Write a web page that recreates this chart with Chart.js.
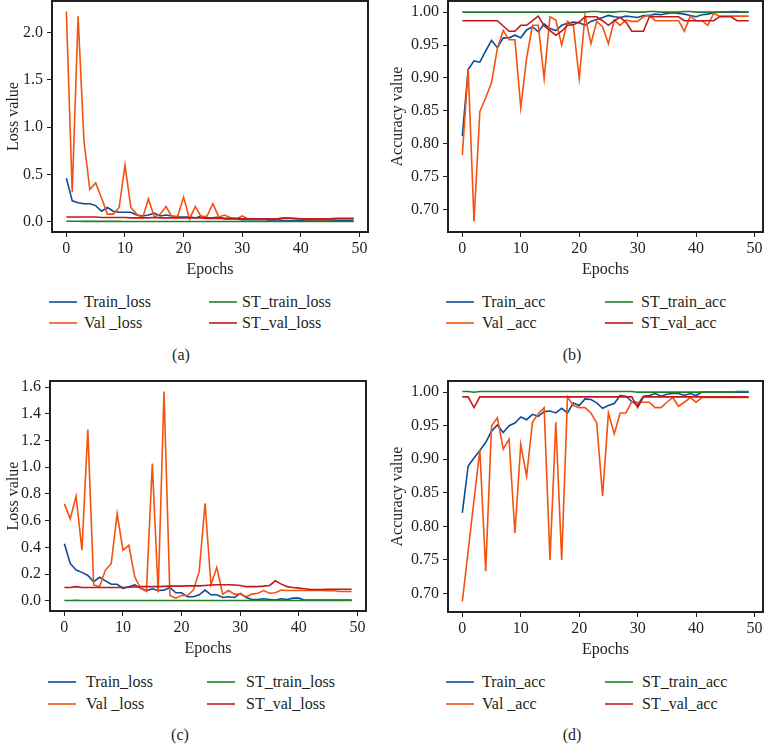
<!DOCTYPE html>
<html>
<head>
<meta charset="utf-8">
<script src="https://cdn.jsdelivr.net/npm/chart.js@4.4.0/dist/chart.umd.min.js"></script>
<style>
  body { margin: 0; background: #fff; width: 765px; height: 744px; position: relative; overflow: hidden;
         font-family: "Liberation Serif", "DejaVu Serif", serif; color: #231f20; }
  canvas { position: absolute; }
  .leg-line { position: absolute; height: 2px; }
  .leg-text, .caption { position: absolute; font-size: 16px; line-height: 20px; white-space: nowrap; }
</style>
</head>
<body>
<script>
// epochs and axis ticks
var epochs = [0, 1, 2, 3, 4, 5, 6, 7, 8, 9, 10, 11, 12, 13, 14, 15, 16, 17, 18, 19, 20, 21, 22, 23, 24,
  25, 26, 27, 28, 29, 30, 31, 32, 33, 34, 35, 36, 37, 38, 39, 40, 41, 42, 43, 44, 45, 46, 47, 48, 49];
var xTicks = [0, 10, 20, 30, 40, 50];
var lossTicksA = [0.0, 0.5, 1.0, 1.5, 2.0];
var lossTicksC = [0.0, 0.2, 0.4, 0.6, 0.8, 1.0, 1.2, 1.4, 1.6];
var accTicks = [0.70, 0.75, 0.80, 0.85, 0.90, 0.95, 1.00];

var lossNames = ['Train_loss', 'Val _loss', 'ST_train_loss', 'ST_val_loss'];
var accNames = ['Train_acc', 'Val _acc', 'ST_train_acc', 'ST_val_acc'];

// (a) loss
var trainLossA = [0.46, 0.22, 0.20, 0.19, 0.19, 0.17, 0.11, 0.15, 0.11, 0.10, 0.10, 0.10, 0.07, 0.06, 0.07, 0.09, 0.06, 0.07, 0.06, 0.05,
  0.05, 0.05, 0.04, 0.06, 0.04, 0.04, 0.05, 0.03, 0.03, 0.03, 0.02, 0.02, 0.02, 0.02, 0.02, 0.01, 0.02, 0.01, 0.01, 0.01,
  0.01, 0.01, 0.01, 0.01, 0.01, 0.01, 0.01, 0.01, 0.01, 0.01];
var valLossA = [2.22, 0.31, 2.17, 0.85, 0.34, 0.41, 0.25, 0.08, 0.08, 0.15, 0.60, 0.15, 0.08, 0.04, 0.24, 0.05, 0.08, 0.16, 0.05, 0.06,
  0.26, 0.03, 0.16, 0.05, 0.06, 0.19, 0.05, 0.07, 0.04, 0.03, 0.06, 0.03, 0.03, 0.03, 0.03, 0.02, 0.03, 0.04, 0.04, 0.03,
  0.03, 0.02, 0.02, 0.02, 0.02, 0.02, 0.03, 0.03, 0.03, 0.03];
var stTrainLossA = [0.004, 0.004, 0.004, 0.003, 0.003, 0.003, 0.003, 0.003, 0.003, 0.003, 0.002, 0.002, 0.002, 0.002, 0.002, 0.002, 0.002, 0.002, 0.002, 0.002,
  0.002, 0.002, 0.002, 0.002, 0.002, 0.002, 0.002, 0.002, 0.002, 0.002, 0.002, 0.002, 0.002, 0.002, 0.002, 0.002, 0.002, 0.002, 0.002, 0.002,
  0.002, 0.002, 0.002, 0.002, 0.002, 0.002, 0.002, 0.002, 0.002, 0.002];
var stValLossA = [0.05, 0.05, 0.05, 0.05, 0.05, 0.05, 0.045, 0.045, 0.045, 0.045, 0.045, 0.04, 0.04, 0.04, 0.04, 0.045, 0.04, 0.04, 0.04, 0.04,
  0.04, 0.04, 0.04, 0.04, 0.035, 0.035, 0.035, 0.035, 0.035, 0.035, 0.03, 0.03, 0.03, 0.03, 0.03, 0.03, 0.03, 0.035, 0.035, 0.035,
  0.03, 0.03, 0.03, 0.03, 0.03, 0.03, 0.035, 0.035, 0.035, 0.035];

// (b) accuracy
var trainAccB = [0.812, 0.913, 0.926, 0.924, 0.941, 0.957, 0.946, 0.961, 0.961, 0.965, 0.961, 0.973, 0.978, 0.970, 0.982, 0.975, 0.972, 0.980, 0.983, 0.985,
  0.984, 0.980, 0.986, 0.989, 0.992, 0.995, 0.993, 0.992, 0.994, 0.993, 0.992, 0.995, 0.995, 0.997, 0.996, 0.998, 0.999, 0.998, 0.997, 0.995,
  0.993, 0.996, 0.997, 0.999, 1.000, 1.000, 1.000, 1.000, 1.000, 1.000];
var valAccB = [0.783, 0.914, 0.682, 0.849, 0.870, 0.893, 0.945, 0.972, 0.958, 0.958, 0.855, 0.930, 0.980, 0.980, 0.899, 0.993, 0.988, 0.950, 0.986, 0.980,
  0.899, 0.995, 0.952, 0.986, 0.978, 0.952, 0.988, 0.980, 0.988, 0.986, 0.986, 0.993, 0.995, 0.987, 0.987, 0.987, 0.987, 0.987, 0.971, 0.994,
  0.987, 0.987, 0.980, 0.998, 0.994, 0.994, 0.994, 0.994, 0.994, 0.994];
var stTrainAccB = [1.000, 1.000, 1.000, 1.000, 1.000, 1.000, 1.000, 1.000, 1.000, 1.000, 1.000, 1.000, 1.000, 1.000, 1.000, 1.000, 1.000, 1.000, 1.000, 1.000,
  1.000, 1.000, 1.001, 1.001, 1.000, 1.000, 1.000, 1.001, 1.001, 1.000, 1.000, 1.000, 1.001, 1.001, 1.000, 1.000, 1.000, 1.000, 1.001, 1.001,
  1.000, 1.000, 1.000, 1.000, 1.000, 1.000, 1.001, 1.001, 1.000, 1.000];
var stValAccB = [0.987, 0.987, 0.987, 0.987, 0.987, 0.987, 0.987, 0.979, 0.971, 0.971, 0.980, 0.980, 0.987, 0.994, 0.979, 0.972, 0.965, 0.971, 0.980, 0.981,
  0.985, 0.993, 0.993, 0.993, 0.987, 0.980, 0.987, 0.992, 0.985, 0.971, 0.971, 0.971, 0.993, 0.993, 0.993, 0.993, 0.993, 0.993, 0.987, 0.987,
  0.987, 0.987, 0.987, 0.987, 0.993, 0.993, 0.993, 0.987, 0.987, 0.987];

// (c) loss
var trainLossC = [0.428, 0.28, 0.23, 0.213, 0.19, 0.144, 0.176, 0.149, 0.124, 0.124, 0.094, 0.106, 0.119, 0.094, 0.077, 0.09, 0.077, 0.08, 0.10, 0.06,
  0.06, 0.03, 0.03, 0.045, 0.08, 0.045, 0.045, 0.025, 0.03, 0.025, 0.055, 0.025, 0.01, 0.01, 0.015, 0.01, 0.005, 0.015, 0.01, 0.02,
  0.02, 0.005, 0.005, 0.005, 0.005, 0.005, 0.005, 0.005, 0.005, 0.005];
var valLossC = [0.726, 0.614, 0.783, 0.379, 1.283, 0.119, 0.106, 0.23, 0.28, 0.651, 0.379, 0.416, 0.18, 0.094, 0.07, 1.028, 0.062, 1.568, 0.04, 0.02,
  0.04, 0.04, 0.08, 0.22, 0.73, 0.12, 0.25, 0.05, 0.077, 0.05, 0.05, 0.03, 0.05, 0.057, 0.077, 0.057, 0.06, 0.08, 0.077, 0.077,
  0.077, 0.077, 0.08, 0.077, 0.077, 0.075, 0.075, 0.07, 0.07, 0.07];
var stTrainLossC = [0.002, 0.002, 0.004, 0.002, 0.002, 0.002, 0.002, 0.002, 0.002, 0.002, 0.002, 0.002, 0.002, 0.002, 0.002, 0.002, 0.002, 0.002, 0.002, 0.002,
  0.002, 0.002, 0.002, 0.002, 0.002, 0.002, 0.002, 0.002, 0.002, 0.002, 0.002, 0.002, 0.002, 0.002, 0.002, 0.002, 0.002, 0.002, 0.002, 0.002,
  0.002, 0.002, 0.002, 0.002, 0.002, 0.002, 0.002, 0.002, 0.002, 0.002];
var stValLossC = [0.10, 0.10, 0.106, 0.10, 0.10, 0.10, 0.10, 0.10, 0.10, 0.10, 0.10, 0.102, 0.104, 0.106, 0.106, 0.106, 0.106, 0.108, 0.11, 0.11,
  0.11, 0.112, 0.112, 0.112, 0.115, 0.118, 0.12, 0.12, 0.12, 0.118, 0.115, 0.106, 0.106, 0.106, 0.11, 0.115, 0.15, 0.125, 0.106, 0.10,
  0.095, 0.09, 0.085, 0.085, 0.085, 0.087, 0.087, 0.087, 0.087, 0.087];

// (d) accuracy
var trainAccD = [0.820, 0.890, 0.902, 0.913, 0.925, 0.942, 0.951, 0.940, 0.950, 0.954, 0.963, 0.959, 0.967, 0.964, 0.971, 0.972, 0.969, 0.976, 0.969, 0.984,
  0.980, 0.990, 0.989, 0.984, 0.976, 0.980, 0.983, 0.995, 0.994, 0.986, 0.981, 0.994, 0.995, 0.998, 0.994, 0.997, 0.998, 0.998, 0.995, 0.998,
  0.995, 1.000, 1.000, 1.000, 1.000, 1.000, 1.000, 1.000, 1.000, 1.000];
var valAccD = [0.688, 0.763, 0.839, 0.914, 0.733, 0.950, 0.962, 0.915, 0.930, 0.790, 0.922, 0.875, 0.955, 0.968, 0.977, 0.750, 0.955, 0.750, 0.993, 0.980,
  0.977, 0.977, 0.969, 0.954, 0.845, 0.969, 0.938, 0.969, 0.969, 0.986, 0.985, 0.985, 0.985, 0.977, 0.977, 0.985, 0.992, 0.979, 0.985, 0.992,
  0.985, 0.992, 0.992, 0.992, 0.992, 0.992, 0.992, 0.992, 0.992, 0.992];
var stTrainAccD = [1.001, 1.001, 1.000, 1.001, 1.001, 1.001, 1.001, 1.001, 1.001, 1.001, 1.001, 1.001, 1.001, 1.001, 1.001, 1.001, 1.001, 1.001, 1.001, 1.001,
  1.001, 1.001, 1.001, 1.001, 1.001, 1.001, 1.001, 1.001, 1.001, 1.001, 1.000, 1.000, 1.000, 1.000, 1.000, 1.000, 1.000, 1.000, 1.000, 1.000,
  1.000, 1.000, 1.000, 1.000, 1.000, 1.000, 1.000, 1.001, 1.001, 1.001];
var stValAccD = [0.993, 0.993, 0.977, 0.993, 0.993, 0.993, 0.993, 0.993, 0.993, 0.993, 0.993, 0.993, 0.993, 0.993, 0.993, 0.993, 0.993, 0.993, 0.993, 0.993,
  0.993, 0.993, 0.993, 0.993, 0.993, 0.993, 0.993, 0.993, 0.993, 0.993, 0.977, 0.993, 0.993, 0.993, 0.993, 0.993, 0.993, 0.993, 0.993, 0.993,
  0.993, 0.993, 0.993, 0.993, 0.993, 0.993, 0.993, 0.993, 0.993, 0.993];

var lineColors = ['#0f4c97', '#f5520f', '#1f7f24', '#c4161c'];
var inkColor = '#231f20';
var family = '"Liberation Serif", "DejaVu Serif", serif';

// box = canvas on the page (kept off the page edges), area = plot frame on the page
var panels = [
  { tag: '(a)', names: lossNames, yTitle: 'Loss value', series: [trainLossA, valLossA, stTrainLossA, stValLossA], yTicks: lossTicksA, digits: 1,
    box: { left: 0, top: 0, width: 380, height: 290 }, area: { left: 52, top: 1, right: 368, bottom: 232 },
    legend: { rows: [301.7, 322.7], lines: [49, 209], texts: [84, 242] }, caption: [181, 355] },
  { tag: '(b)', names: accNames, yTitle: 'Accuracy value', series: [trainAccB, valAccB, stTrainAccB, stValAccB], yTicks: accTicks, digits: 2,
    box: { left: 384, top: 0, width: 380, height: 290 }, area: { left: 448, top: 1, right: 763, bottom: 232 },
    legend: { rows: [301.7, 323.3], lines: [446, 605], texts: [482, 641] }, caption: [572, 355] },
  { tag: '(c)', names: lossNames, yTitle: 'Loss value', series: [trainLossC, valLossC, stTrainLossC, stValLossC], yTicks: lossTicksC, digits: 1,
    box: { left: 0, top: 374, width: 380, height: 290 }, area: { left: 50, top: 381, right: 366, bottom: 611 },
    legend: { rows: [681.7, 704.3], lines: [48, 207], texts: [86, 246] }, caption: [180, 735] },
  { tag: '(d)', names: accNames, yTitle: 'Accuracy value', series: [trainAccD, valAccD, stTrainAccD, stValAccD], yTicks: accTicks, digits: 2,
    box: { left: 384, top: 374, width: 380, height: 290 }, area: { left: 448, top: 381, right: 763, bottom: 612 },
    legend: { rows: [681.7, 704], lines: [446, 605], texts: [482, 642] }, caption: [572, 735] }
];

// matplotlib-style 5% autoscale margins
function padRange(values) {
  var lo = Math.min.apply(null, values), hi = Math.max.apply(null, values);
  var m = (hi - lo) * 0.05;
  return { min: lo - m, max: hi + m };
}

// full box around the plot area
var framePlugin = {
  id: 'frame',
  afterDraw: function(chart) {
    var a = chart.chartArea, ctx = chart.ctx;
    ctx.save();
    ctx.strokeStyle = inkColor;
    ctx.lineWidth = 2;
    ctx.strokeRect(a.left, a.top, a.right - a.left, a.bottom - a.top);
    ctx.restore();
  }
};

function addEl(cls, css, text) {
  var el = document.createElement('div');
  el.className = cls;
  Object.assign(el.style, css);
  if (text) el.textContent = text;
  document.body.appendChild(el);
  return el;
}

panels.forEach(function(p) {
  var b = p.box, a = p.area;
  var canvas = document.createElement('canvas');
  canvas.width = b.width;
  canvas.height = b.height;
  canvas.style.left = b.left + 'px';
  canvas.style.top = b.top + 'px';
  document.body.appendChild(canvas);

  var xAxisHeight = 51;
  var yAxisWidth = a.left - b.left;
  var xr = padRange(epochs);
  var yr = padRange([].concat.apply([], p.series));

  new Chart(canvas, {
    type: 'line',
    data: {
      labels: epochs,
      datasets: p.series.map(function(values, k) {
        return {
          label: p.names[k],
          data: values,
          borderColor: lineColors[k],
          borderWidth: 1.6,
          pointRadius: 0,
          order: 4 - k
        };
      })
    },
    options: {
      responsive: false,
      animation: false,
      layout: {
        padding: {
          left: 0,
          top: a.top - b.top,
          right: b.left + b.width - a.right,
          bottom: b.top + b.height - a.bottom - xAxisHeight
        }
      },
      plugins: { legend: { display: false }, tooltip: { enabled: false } },
      scales: {
        x: {
          type: 'linear',
          bounds: 'data',
          min: xr.min,
          max: xr.max,
          afterBuildTicks: function(s) { s.ticks = xTicks.map(function(v) { return { value: v }; }); },
          afterFit: function(s) { s.height = xAxisHeight; s.paddingLeft = 0; s.paddingRight = 0; },
          grid: { drawOnChartArea: false, drawTicks: true, tickLength: 5, tickColor: inkColor, tickWidth: 1 },
          border: { display: true, color: inkColor, width: 2 },
          ticks: {
            font: { family: family, size: 16 }, color: inkColor, padding: 2.5, maxRotation: 0, autoSkip: false,
            callback: function(value) { return String(value); }
          },
          title: { display: true, text: 'Epochs', font: { family: family, size: 16 }, color: inkColor }
        },
        y: {
          type: 'linear',
          bounds: 'data',
          min: yr.min,
          max: yr.max,
          afterBuildTicks: function(s) { s.ticks = p.yTicks.map(function(v) { return { value: v }; }); },
          afterFit: function(s) { s.width = yAxisWidth; s.paddingTop = 0; s.paddingBottom = 0; },
          grid: { drawOnChartArea: false, drawTicks: true, tickLength: 5, tickColor: inkColor, tickWidth: 1 },
          border: { display: true, color: inkColor, width: 2 },
          ticks: {
            font: { family: family, size: 16 }, color: inkColor, padding: 4,
            callback: function(value) { return value.toFixed(p.digits); }
          },
          title: { display: true, text: p.yTitle, font: { family: family, size: 16 }, color: inkColor }
        }
      }
    },
    plugins: [framePlugin]
  });

  // legend: two columns, Train/Val on the left, ST_* on the right
  p.names.forEach(function(name, k) {
    var col = Math.floor(k / 2), row = k % 2;
    var y = p.legend.rows[row];
    addEl('leg-line', { left: p.legend.lines[col] + 'px', top: (y - 1) + 'px', width: '28px', background: lineColors[k], opacity: 0.8 });
    addEl('leg-text', { left: p.legend.texts[col] + 'px', top: (y - 10) + 'px' }, name);
  });

  addEl('caption', { left: (p.caption[0] - 20) + 'px', top: (p.caption[1] - 10) + 'px', width: '40px', textAlign: 'center' }, p.tag);
});
</script>
</body>
</html>
